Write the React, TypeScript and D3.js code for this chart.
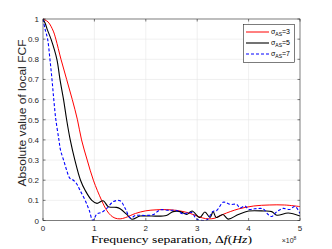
import React from "react";
import * as d3 from "d3";

const xTicks = [0, 1, 2, 3, 4, 5];
const yTicks = [0, 0.1, 0.2, 0.3, 0.4, 0.5, 0.6, 0.7, 0.8, 0.9, 1];

const redX = [0, 0.1, 0.2, 0.25, 0.35, 0.46, 0.57, 0.67, 0.75, 0.86, 0.98, 1.14, 1.24, 1.32, 1.4, 1.5, 1.6, 1.8, 2.0, 2.2, 2.4, 2.6, 2.8, 2.95, 3.1, 3.22, 3.35, 3.5, 3.8, 4.1, 4.4, 4.7, 5.0];
const redY = [1, 0.985, 0.94, 0.9, 0.8, 0.7, 0.6, 0.5, 0.4, 0.3, 0.2, 0.1, 0.05, 0.025, 0.012, 0.008, 0.014, 0.035, 0.048, 0.053, 0.054, 0.05, 0.04, 0.027, 0.013, 0.008, 0.012, 0.03, 0.057, 0.072, 0.077, 0.077, 0.069];

const blackX = [0, 0.04, 0.08, 0.156, 0.27, 0.33, 0.4, 0.46, 0.53, 0.62, 0.73, 0.82, 0.95, 1.05, 1.17, 1.27, 1.35, 1.43, 1.5, 1.63, 1.73, 1.89, 2.1, 2.4, 2.53, 2.67, 2.8, 2.9, 3.05, 3.15, 3.25, 3.31, 3.37, 3.5, 3.6, 3.8, 4.0, 4.3, 4.45, 4.55, 4.77, 5.0];
const blackY = [1, 0.98, 0.95, 0.9, 0.8, 0.7, 0.6, 0.5, 0.4, 0.3, 0.2, 0.15, 0.1, 0.085, 0.098, 0.068, 0.066, 0.065, 0.058, 0.03, 0.006, 0.022, 0.022, 0.025, 0.044, 0.044, 0.03, 0.047, 0.015, 0.042, 0.015, 0.044, 0.015, 0.03, 0.007, 0.03, 0.047, 0.047, 0.044, 0.026, 0.037, 0.022];

const blueX = [0, 0.04, 0.09, 0.135, 0.175, 0.21, 0.25, 0.31, 0.34, 0.4, 0.46, 0.52, 0.59, 0.66, 0.72, 0.82, 0.9, 0.97, 1.05, 1.14, 1.24, 1.37, 1.5, 1.6, 1.7, 1.8, 2.0, 2.15, 2.28, 2.45, 2.6, 2.72, 2.89, 2.99, 3.11, 3.2, 3.3, 3.38, 3.5, 3.55, 3.64, 3.77, 3.83, 3.93, 4.0, 4.12, 4.28, 4.38, 4.45, 4.55, 4.67, 4.8, 4.9, 5.0];
const blueY = [1, 0.95, 0.9, 0.8, 0.7, 0.6, 0.5, 0.4, 0.35, 0.3, 0.25, 0.21, 0.2, 0.18, 0.15, 0.1, 0.05, 0.0, 0.033, 0.04, 0.06, 0.094, 0.098, 0.06, 0.012, 0.025, 0.025, 0.03, 0.053, 0.05, 0.05, 0.033, 0.04, 0.007, 0.0, 0.005, 0.044, 0.05, 0.09, 0.09, 0.08, 0.08, 0.063, 0.072, 0.055, 0.058, 0.058, 0.03, 0.02, 0.044, 0.06, 0.055, 0.07, 0.035];

const seriesNames = ["3", "5", "7"];

const W = 332, H = 249;
const L = 43, R = 300, T = 19, B = 220.5;

export default function App() {
  const x = d3.scaleLinear().domain([0, 5]).range([L, R]);
  const y = d3.scaleLinear().domain([0, 1]).range([B, T]);
  const line = d3.line<[number, number]>().x(d => x(d[0])).y(d => y(d[1])).curve(d3.curveCatmullRom.alpha(0.5));
  const mk = (xs: number[], ys: number[]) => xs.map((v, i) => [v, ys[i]] as [number, number]);
  const series = [
    { d: mk(redX, redY), color: "#ff0000", dash: undefined as string | undefined, w: 1 },
    { d: mk(blackX, blackY), color: "#000000", dash: undefined, w: 1.1 },
    { d: mk(blueX, blueY), color: "#0000ff", dash: "3,2", w: 1.1 },
  ];
  const axisColor = "#262626";
  const font = "'Liberation Sans', Arial, sans-serif";
  return (
    <div style={{ position: "fixed", left: 0, top: 0 }}>
      <svg width={W} height={H} style={{ display: "block", background: "#fff" }}>
        <defs>
          <clipPath id="plotclip"><rect x={L} y={T - 1} width={R - L} height={B - T + 1} /></clipPath>
        </defs>
        <rect x={L} y={T} width={R - L} height={B - T} fill="#fff" />
        {xTicks.slice(1, -1).map(t => (
          <line key={"gx" + t} x1={x(t)} x2={x(t)} y1={T} y2={B} stroke="#e6e6e6" strokeWidth={0.6} />
        ))}
        {yTicks.slice(1, -1).map(t => (
          <line key={"gy" + t} x1={L} x2={R} y1={y(t)} y2={y(t)} stroke="#e6e6e6" strokeWidth={0.6} />
        ))}
        <g clipPath="url(#plotclip)">
          {series.map((s, i) => (
            <path key={i} d={line(s.d) || ""} fill="none" stroke={s.color} strokeWidth={s.w} strokeDasharray={s.dash} />
          ))}
        </g>
        <rect x={L} y={T} width={R - L} height={B - T} fill="none" stroke={axisColor} strokeWidth={0.6} />
        {xTicks.map(t => (
          <g key={"tx" + t}>
            <line x1={x(t)} x2={x(t)} y1={B} y2={B - 2.5} stroke={axisColor} strokeWidth={0.6} />
            <line x1={x(t)} x2={x(t)} y1={T} y2={T + 2.5} stroke={axisColor} strokeWidth={0.6} />
            <text x={x(t)} y={B + 10} fontSize={8} fontFamily={font} fill={axisColor} textAnchor="middle">{t}</text>
          </g>
        ))}
        {yTicks.map(t => (
          <g key={"ty" + t}>
            <line x1={L} x2={L + 2.5} y1={y(t)} y2={y(t)} stroke={axisColor} strokeWidth={0.6} />
            <line x1={R} x2={R - 2.5} y1={y(t)} y2={y(t)} stroke={axisColor} strokeWidth={0.6} />
            <text x={L - 4} y={y(t) + 3} fontSize={8} fontFamily={font} fill={axisColor} textAnchor="end">{String(t)}</text>
          </g>
        ))}
        <text x={289} y={243} fontSize={7} fontFamily={font} fill={axisColor} textAnchor="middle">
          ×10<tspan dy={-3} fontSize={5}>8</tspan>
        </text>
        <text x={91} y={243} fontSize={11} fontFamily="'Liberation Serif', 'DejaVu Serif', serif" fill="#000" textLength={161} lengthAdjust="spacingAndGlyphs">
          Frequency separation, Δ<tspan fontStyle="italic">f</tspan>(<tspan fontStyle="italic">Hz</tspan>)
        </text>
        <text transform={`translate(26,113) rotate(-90)`} fontSize={11} fontFamily={font} fill={axisColor} textAnchor="middle" textLength={147} lengthAdjust="spacingAndGlyphs">
          Absolute value of local FCF
        </text>
        <rect x={243.5} y={24.5} width={51} height={38} fill="#fff" stroke={axisColor} strokeWidth={0.6} />
        {series.map((s, i) => {
          const ly = 32 + i * 11;
          return (
            <g key={"lg" + i}>
              <line x1={246} x2={269} y1={ly} y2={ly} stroke={s.color} strokeWidth={s.w} strokeDasharray={s.dash} />
              <text x={271} y={ly + 2} fontSize={7} fontFamily={font} fill="#000">
                σ<tspan dy={2} fontSize={5}>AS</tspan><tspan dy={-2}>={seriesNames[i]}</tspan>
              </text>
            </g>
          );
        })}
      </svg>
    </div>
  );
}
